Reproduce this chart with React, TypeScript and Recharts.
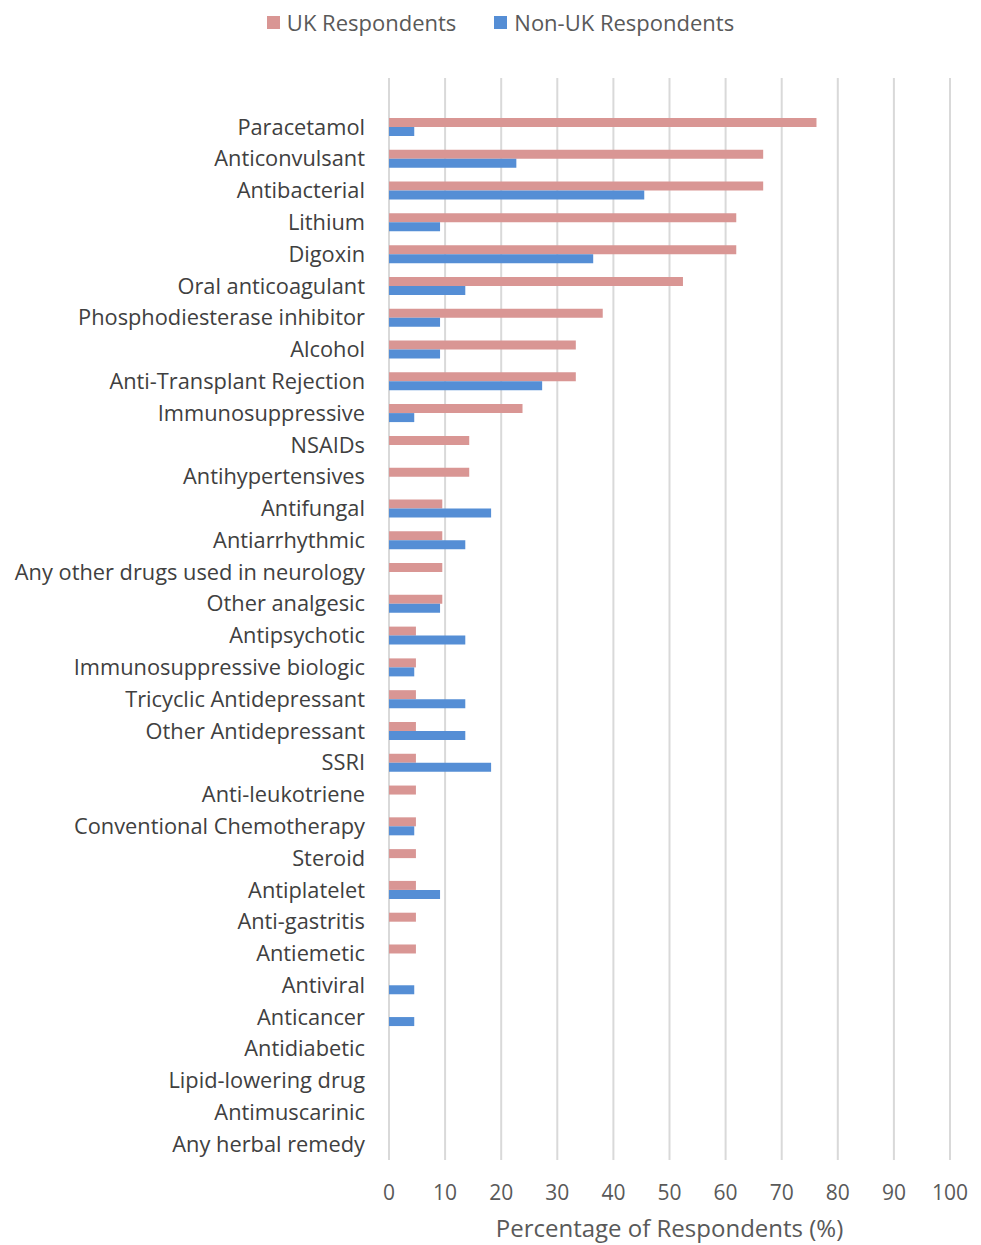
import React from 'react';
import { BarChart, Bar, XAxis, YAxis, CartesianGrid, Legend } from 'recharts';

// categories top to bottom, values in %
const drugs = [
  'Paracetamol', 'Anticonvulsant', 'Antibacterial', 'Lithium', 'Digoxin',
  'Oral anticoagulant', 'Phosphodiesterase inhibitor', 'Alcohol',
  'Anti-Transplant Rejection', 'Immunosuppressive', 'NSAIDs', 'Antihypertensives',
  'Antifungal', 'Antiarrhythmic', 'Any other drugs used in neurology',
  'Other analgesic', 'Antipsychotic', 'Immunosuppressive biologic',
  'Tricyclic Antidepressant', 'Other Antidepressant', 'SSRI', 'Anti-leukotriene',
  'Conventional Chemotherapy', 'Steroid', 'Antiplatelet', 'Anti-gastritis',
  'Antiemetic', 'Antiviral', 'Anticancer', 'Antidiabetic', 'Lipid-lowering drug',
  'Antimuscarinic', 'Any herbal remedy',
];

const ukValues = [
  76.2, 66.7, 66.7, 61.9, 61.9, 52.4, 38.1, 33.3, 33.3, 23.8, 14.3, 14.3,
  9.5, 9.5, 9.5, 9.5, 4.8, 4.8, 4.8, 4.8, 4.8, 4.8, 4.8, 4.8, 4.8, 4.8,
  4.8, 0, 0, 0, 0, 0, 0,
];

const nonUkValues = [
  4.5, 22.7, 45.5, 9.1, 36.4, 13.6, 9.1, 9.1, 27.3, 4.5, 0, 0,
  18.2, 13.6, 0, 9.1, 13.6, 4.5, 13.6, 13.6, 18.2, 0, 4.5, 0, 9.1, 0,
  0, 4.5, 4.5, 0, 0, 0, 0,
];

const xTicks = [0, 10, 20, 30, 40, 50, 60, 70, 80, 90, 100];

const data = drugs.map((name, i) => ({ name, uk: ukValues[i], nonUk: nonUkValues[i] }));

const UK_COLOR = '#d99694';
const NON_UK_COLOR = '#558ed5';
const FONT = '"Open Sans", sans-serif';

const LegendBox = () => (
  <div style={{ display: 'flex', justifyContent: 'center', gap: 38, fontFamily: FONT, fontSize: 22, color: '#595959', paddingLeft: 20 }}>
    <span style={{ display: 'flex', alignItems: 'center' }}>
      <span style={{ width: 13, height: 13, background: UK_COLOR, marginRight: 7, display: 'inline-block' }} />
      UK Respondents
    </span>
    <span style={{ display: 'flex', alignItems: 'center' }}>
      <span style={{ width: 13, height: 13, background: NON_UK_COLOR, marginRight: 7, display: 'inline-block' }} />
      Non-UK Respondents
    </span>
  </div>
);

export default function App() {
  return (
    <div style={{ position: 'absolute', left: 0, top: 0, width: 981, height: 1245, background: '#fff' }}>
      <BarChart
        width={981}
        height={1245}
        data={data}
        layout="vertical"
        margin={{ top: 38, right: 31, left: 0, bottom: 0 }}
        barGap={0}
      >
        <CartesianGrid horizontal={false} stroke="#d9d9d9" strokeWidth={2} />
        <XAxis
          type="number"
          domain={[0, 100]}
          ticks={xTicks}
          axisLine={false}
          tickLine={false}
          tickSize={0}
          tickMargin={25}
          tick={{ fontSize: 21, fill: '#595959', fontFamily: FONT }}
          label={{ value: 'Percentage of Respondents (%)', position: 'insideBottom', offset: 8, fontSize: 24, fill: '#595959', fontFamily: FONT }}
          height={85}
        />
        <YAxis
          type="category"
          dataKey="name"
          width={389}
          axisLine={false}
          tickLine={false}
          tickSize={0}
          tickMargin={24}
          interval={0}
          padding={{ top: 33 }}
          tick={{ fontSize: 21.8, fill: '#404040', fontFamily: FONT }}
        />
        <Legend verticalAlign="top" height={40} content={() => <LegendBox />} wrapperStyle={{ top: 7, left: 0, width: 981 }} />
        <Bar dataKey="uk" name="UK Respondents" fill={UK_COLOR} barSize={9} isAnimationActive={false} />
        <Bar dataKey="nonUk" name="Non-UK Respondents" fill={NON_UK_COLOR} barSize={9} isAnimationActive={false} />
      </BarChart>
    </div>
  );
}
